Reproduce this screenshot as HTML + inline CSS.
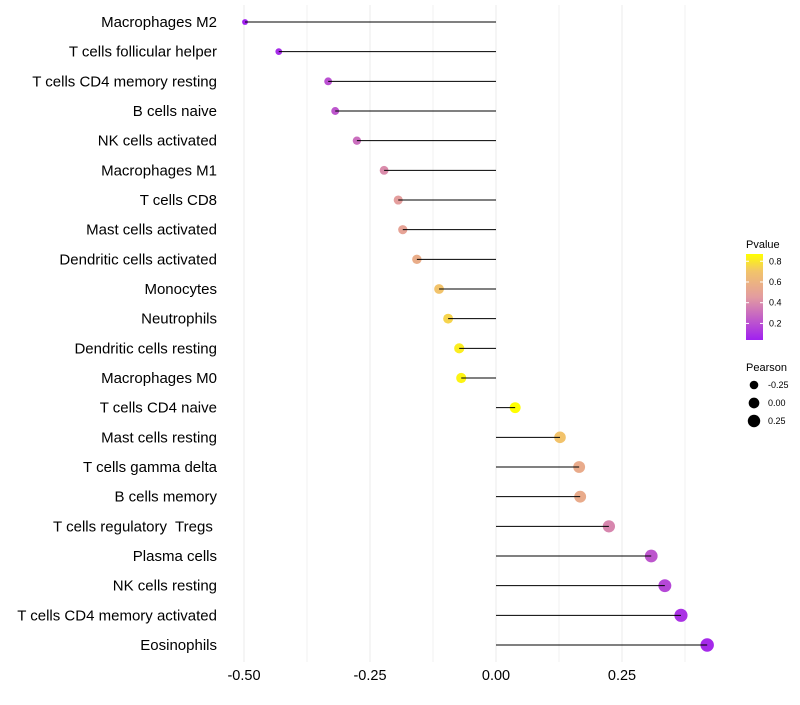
<!DOCTYPE html>
<html><head><meta charset="utf-8"><style>body{margin:0;background:#fff}svg{font-family:"Liberation Sans",sans-serif}text{white-space:pre}</style></head>
<body>
<svg id="c" width="800" height="700">
<defs><linearGradient id="g" x1="0" y1="1" x2="0" y2="0">
<stop offset="0" stop-color="#A020F0"/><stop offset="0.5" stop-color="#E39CA0"/><stop offset="0.8" stop-color="#F2C46A"/><stop offset="1" stop-color="#FFFF00"/></linearGradient></defs>
</svg>
<script>
const categories=["Macrophages M2","T cells follicular helper","T cells CD4 memory resting","B cells naive","NK cells activated","Macrophages M1","T cells CD8","Mast cells activated","Dendritic cells activated","Monocytes","Neutrophils","Dendritic cells resting","Macrophages M0","T cells CD4 naive","Mast cells resting","T cells gamma delta","B cells memory","T cells regulatory  Tregs ","Plasma cells","NK cells resting","T cells CD4 memory activated","Eosinophils"];
const pearson=[-0.498,-0.431,-0.333,-0.319,-0.276,-0.222,-0.194,-0.185,-0.157,-0.113,-0.095,-0.073,-0.069,0.038,0.127,0.165,0.167,0.224,0.308,0.335,0.367,0.419];
const pvalue=[0.04,0.08,0.2,0.22,0.3,0.4,0.47,0.5,0.56,0.7,0.75,0.82,0.84,0.87,0.7,0.55,0.55,0.38,0.22,0.17,0.1,0.07];
const xTicks=[-0.5,-0.25,0,0.25];
const xTickLabels=["-0.50","-0.25","0.00","0.25"];
const xMinor=[-0.375,-0.125,0.125,0.375];
const NS="http://www.w3.org/2000/svg",svg=document.getElementById('c');
const x=v=>496+v*504, y=i=>22+i*(623/21), r=v=>Math.sqrt(Math.max(3,28.5+40*v));
function mk(t,a,p){const e=document.createElementNS(NS,t);for(const k in a)e.setAttribute(k,a[k]);(p||svg).appendChild(e);return e;}
function lerp(a,b,t){return a.map((v,i)=>Math.round(v+(b[i]-v)*t));}
const stops=[[0,[160,32,240]],[0.5,[227,156,160]],[0.8,[242,196,106]],[1,[255,255,0]]];
function col(p){const lo=0.04,hi=0.87;let t=Math.max(0,Math.min(1,(p-lo)/(hi-lo)));for(let k=1;k<stops.length;k++){if(t<=stops[k][0]){const a=stops[k-1],b=stops[k];return `rgb(${lerp(a[1],b[1],(t-a[0])/(b[0]-a[0]))})`;}}return 'rgb(255,255,0)';}
xMinor.forEach(v=>{const l=mk('line',{x1:x(v),x2:x(v),y1:5,y2:662,stroke:'#f2f2f2','stroke-width':1});});
xTicks.forEach((v,i)=>{const l=mk('line',{x1:x(v),x2:x(v),y1:5,y2:662,stroke:'#ebebeb','stroke-width':1});
const t=mk('text',{x:x(v),y:680,'text-anchor':'middle','font-size':14.5,fill:'#000'});t.textContent=xTickLabels[i];});
categories.forEach((c,i)=>{
const t=mk('text',{x:217,y:y(i)+5,'text-anchor':'end','font-size':15,fill:'#000'});t.textContent=c;
const d=mk('circle',{cx:x(pearson[i]),cy:y(i),r:r(pearson[i]),fill:col(pvalue[i])});
const l=mk('line',{x1:x(0),x2:x(pearson[i]),y1:y(i),y2:y(i),stroke:'#000','stroke-width':1});
});
const g=mk('g',{});
let t=mk('text',{x:746,y:248,'font-size':11},g);t.textContent='Pvalue';
mk('rect',{x:746,y:254,width:17,height:86,fill:'url(#g)'},g);
[0.2,0.4,0.6,0.8].forEach(p=>{const yy=340-(p-0.04)/(0.83)*86;mk('line',{x1:746,x2:749,y1:yy,y2:yy,stroke:'#fff'},g);mk('line',{x1:760,x2:763,y1:yy,y2:yy,stroke:'#fff'},g);
const tt=mk('text',{x:769,y:yy+3,'font-size':9},g);tt.textContent=p.toFixed(1);});
t=mk('text',{x:746,y:371,'font-size':11},g);t.textContent='Pearson';
[-0.25,0,0.25].forEach((v,i)=>{const yy=385+i*18;mk('circle',{cx:754,cy:yy,r:r(v),fill:'#000'},g);const tt=mk('text',{x:768,y:yy+3,'font-size':9},g);tt.textContent=v.toFixed(2);});
</script>
</body></html>
